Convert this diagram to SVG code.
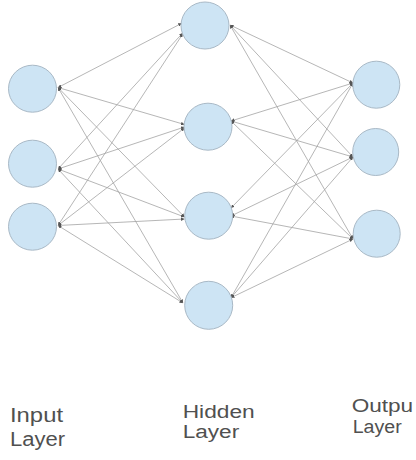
<svg xmlns="http://www.w3.org/2000/svg" width="416" height="460" viewBox="0 0 416 460">
<defs>
<marker id="ah" viewBox="0 0 6 6" refX="6" refY="3" markerWidth="3.5" markerHeight="3.5" orient="auto-start-reverse" markerUnits="userSpaceOnUse">
<path d="M0,0 L6,3 L0,6 z" fill="#555"/>
</marker>
<style>
.n{fill:#cde4f4;stroke:#a9b9c6;stroke-width:1}
.e line{stroke:#a3a3a3;stroke-width:0.8;marker-start:url(#ah);marker-end:url(#ah)}
.t{font-family:"Liberation Sans",Arial,sans-serif;font-size:20px;fill:#505050}
.s{font-size:18px}
</style>
</defs>
<rect width="416" height="460" fill="#ffffff"/>
<g id="connectors" class="e">
<line x1="58" y1="87.5" x2="181.7" y2="23.3"/>
<line x1="58" y1="87.5" x2="184.5" y2="124.5"/>
<line x1="58" y1="87.5" x2="184.5" y2="217"/>
<line x1="58" y1="87.5" x2="183" y2="303"/>
<line x1="58" y1="169" x2="182.7" y2="33"/>
<line x1="58" y1="169" x2="184.5" y2="127"/>
<line x1="58" y1="169" x2="184.5" y2="217"/>
<line x1="58" y1="169" x2="183" y2="303"/>
<line x1="58" y1="225.5" x2="182.7" y2="34"/>
<line x1="58" y1="225.5" x2="184.5" y2="128"/>
<line x1="58" y1="225.5" x2="184.5" y2="219"/>
<line x1="58" y1="225.5" x2="183" y2="303"/>
<line x1="230" y1="25" x2="353" y2="83"/>
<line x1="230" y1="25" x2="353" y2="157"/>
<line x1="230" y1="25" x2="353" y2="239"/>
<line x1="231" y1="121" x2="353" y2="83"/>
<line x1="231" y1="121" x2="353" y2="157"/>
<line x1="231" y1="121" x2="353" y2="239"/>
<line x1="231" y1="208" x2="353" y2="83"/>
<line x1="231" y1="216" x2="353" y2="157"/>
<line x1="231" y1="216" x2="353" y2="239"/>
<line x1="231" y1="297.7" x2="353" y2="83"/>
<line x1="231" y1="297.7" x2="353" y2="157"/>
<line x1="231" y1="297.7" x2="353" y2="239"/>
</g>
<g id="input1"><ellipse class="n" cx="32.5" cy="88.7" rx="24" ry="23.5"/></g>
<g id="input2"><ellipse class="n" cx="32.5" cy="163.7" rx="24" ry="23.5"/></g>
<g id="input3"><ellipse class="n" cx="32.5" cy="226.7" rx="24" ry="23.5"/></g>
<g id="hidden1"><ellipse class="n" cx="205" cy="25.5" rx="24" ry="23.5"/></g>
<g id="hidden2"><ellipse class="n" cx="208" cy="126.7" rx="24" ry="23.5"/></g>
<g id="hidden3"><ellipse class="n" cx="208.7" cy="215.7" rx="24" ry="23.5"/></g>
<g id="hidden4"><ellipse class="n" cx="208.7" cy="305.3" rx="24" ry="24"/></g>
<g id="output1"><ellipse class="n" cx="376.3" cy="84.7" rx="23.5" ry="23.5"/></g>
<g id="output2"><ellipse class="n" cx="375.7" cy="152" rx="23" ry="23.5"/></g>
<g id="output3"><ellipse class="n" cx="376.7" cy="233.7" rx="23.5" ry="23.5"/></g>
<g id="label-input">
<text class="t" x="10" y="422" textLength="53" lengthAdjust="spacingAndGlyphs">Input</text>
<text class="t" x="10" y="445.5" textLength="55" lengthAdjust="spacingAndGlyphs">Layer</text>
</g>
<g id="label-hidden">
<text class="t s" x="182.7" y="417.5" textLength="72" lengthAdjust="spacingAndGlyphs">Hidden</text>
<text class="t s" x="182.7" y="437.5" textLength="56.5" lengthAdjust="spacingAndGlyphs">Layer</text>
</g>
<g id="label-output">
<text class="t s" x="351.7" y="412" textLength="61.5" lengthAdjust="spacingAndGlyphs">Outpu</text>
<text class="t s" x="352.7" y="433.3" textLength="49" lengthAdjust="spacingAndGlyphs">Layer</text>
</g>
</svg>
